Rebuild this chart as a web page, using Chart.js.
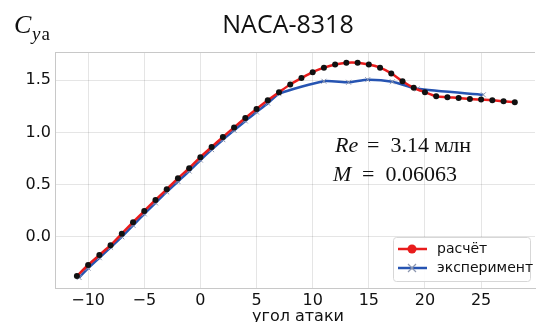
<!DOCTYPE html>
<html>
<head>
<meta charset="utf-8">
<script src="https://cdn.jsdelivr.net/npm/chart.js@4"></script>
<style>
  html, body { margin: 0; padding: 0; background: #fff; }
  #wrap { width: 540px; height: 322px; }
</style>
</head>
<body>
<div id="wrap"><canvas id="c"></canvas></div>
<script>
// расчёт
const alphaCalc = [-11, -10, -9, -8, -7, -6, -5, -4, -3, -2, -1, 0, 1, 2, 3, 4, 5, 6, 7, 8, 9,
    10, 11, 12, 13, 14, 15, 16, 17, 18, 19, 20, 21, 22, 23, 24, 25, 26, 27, 28];
const cyaCalc = [-0.375, -0.27, -0.175, -0.08, 0.03, 0.14, 0.247, 0.353, 0.455, 0.56, 0.657,
    0.763, 0.86, 0.955, 1.048, 1.138, 1.225, 1.308, 1.385, 1.459, 1.52,
    1.577, 1.62, 1.65, 1.667, 1.667, 1.65, 1.62, 1.565, 1.49, 1.427,
    1.385, 1.346, 1.337, 1.33, 1.32, 1.314, 1.308, 1.298, 1.288];

// эксперимент
const alphaExp = [-10.8, -10, -9, -8, -7, -6, -5, -4, -3, -2, -1, 0, 1, 2, 3, 4, 5, 6, 7,
    11, 13.2, 14.9, 17.1, 19.3, 25.2];
const cyaExp = [-0.39, -0.30, -0.20, -0.10, 0.0, 0.11, 0.22, 0.325, 0.43, 0.53, 0.63,
    0.735, 0.835, 0.93, 1.02, 1.11, 1.195, 1.28, 1.37,
    1.49, 1.48, 1.505, 1.485, 1.417, 1.36];

const xTicks = [-10, -5, 0, 5, 10, 15, 20, 25];
const yTicks = [0, 0.5, 1.0, 1.5];
const seriesNames = ['расчёт', 'эксперимент'];

const RED = 'rgb(232, 28, 28)';
const BLUE = 'rgb(38, 84, 178)';
const GRID = 'rgba(0,0,0,0.1)';
const FRAME = 'rgb(200,200,200)';

const toPoints = (xs, ys) => xs.map((x, i) => ({ x: x, y: ys[i] }));

const decorations = {
    id: 'decorations',
    afterDraw(chart) {
        const ctx = chart.ctx;
        const a = chart.chartArea;
        ctx.save();

        // top frame line
        ctx.strokeStyle = FRAME;
        ctx.lineWidth = 1;
        ctx.beginPath();
        ctx.moveTo(a.left, a.top + 0.5);
        ctx.lineTo(a.right, a.top + 0.5);
        ctx.stroke();

        // title
        ctx.fillStyle = '#111';
        ctx.textBaseline = 'alphabetic';
        ctx.textAlign = 'center';
        ctx.font = '25px "Open Sans"';
        ctx.fillText('NACA-8318', 288, 33);

        // C_ya
        ctx.textAlign = 'left';
        ctx.font = 'italic 26px "Liberation Serif"';
        ctx.fillText('C', 14, 33);
        ctx.font = 'italic 19px "Liberation Serif"';
        ctx.fillText('y', 32, 40);
        const yw = ctx.measureText('y').width;
        ctx.font = '19px "Liberation Serif"';
        ctx.fillText('a', 32 + yw + 1, 40);

        // Re and M annotations
        ctx.font = 'italic 22px "Liberation Serif"';
        ctx.fillText('Re', 335, 152);
        ctx.font = '22px "Liberation Serif"';
        ctx.fillText('=  3.14 млн', 367, 152);
        ctx.font = 'italic 22px "Liberation Serif"';
        ctx.fillText('M', 333, 181);
        ctx.font = '22px "Liberation Serif"';
        ctx.fillText('=  0.06063', 362, 181);

        // x axis title
        ctx.textAlign = 'center';
        ctx.font = '16px "DejaVu Sans"';
        ctx.fillText('угол атаки', 298, 321);

        // legend
        const lx = 393, ly = 237, lw = 137, lh = 44;
        ctx.fillStyle = 'rgba(255,255,255,0.85)';
        ctx.strokeStyle = 'rgb(215,215,215)';
        ctx.beginPath();
        ctx.roundRect(lx + 0.5, ly + 0.5, lw, lh, 3);
        ctx.fill();
        ctx.stroke();

        const rows = [
            { y: 249, color: RED, marker: 'dot' },
            { y: 268, color: BLUE, marker: 'cross' }
        ];
        rows.forEach((r, i) => {
            ctx.strokeStyle = r.color;
            ctx.lineWidth = 2.5;
            ctx.beginPath();
            ctx.moveTo(398, r.y);
            ctx.lineTo(427, r.y);
            ctx.stroke();
            if (r.marker === 'dot') {
                ctx.fillStyle = r.color;
                ctx.beginPath();
                ctx.arc(412, r.y, 4.5, 0, Math.PI * 2);
                ctx.fill();
            } else {
                ctx.strokeStyle = 'rgb(140,150,175)';
                ctx.lineWidth = 1.2;
                ctx.beginPath();
                ctx.moveTo(408, r.y - 4); ctx.lineTo(416, r.y + 4);
                ctx.moveTo(416, r.y - 4); ctx.lineTo(408, r.y + 4);
                ctx.stroke();
            }
            ctx.fillStyle = '#111';
            ctx.textAlign = 'left';
            ctx.textBaseline = 'middle';
            ctx.font = '14px "DejaVu Sans"';
            ctx.fillText(seriesNames[i], 437, r.y);
        });

        ctx.restore();
    }
};

new Chart(document.getElementById('c'), {
    type: 'line',
    data: {
        datasets: [{
            label: seriesNames[0],
            data: toPoints(alphaCalc, cyaCalc),
            borderColor: RED,
            borderWidth: 2.5,
            pointRadius: 3,
            pointBackgroundColor: '#111',
            pointBorderColor: '#111',
            pointBorderWidth: 0,
            tension: 0.3,
            order: 0
        }, {
            label: seriesNames[1],
            data: toPoints(alphaExp, cyaExp),
            borderColor: BLUE,
            borderWidth: 2.5,
            pointStyle: 'crossRot',
            pointRadius: 3.5,
            pointBorderColor: 'rgb(140,150,175)',
            pointBorderWidth: 1,
            tension: 0.2,
            order: 1
        }]
    },
    options: {
        responsive: true,
        maintainAspectRatio: false,
        animation: false,
        layout: { padding: { top: 52, right: 0, left: 0, bottom: 0 } },
        plugins: {
            legend: { display: false },
            tooltip: { enabled: false }
        },
        scales: {
            x: {
                type: 'linear',
                min: -12.95,
                max: 29.8,
                afterBuildTicks: (scale) => { scale.ticks = xTicks.map(v => ({ value: v })); },
                afterFit: (scale) => { scale.height = 34; },
                grid: { color: GRID, drawTicks: false },
                border: { color: FRAME },
                ticks: {
                    padding: 3,
                    color: '#111',
                    font: { family: 'DejaVu Sans', size: 16 },
                    callback: (v) => String(v).replace('-', '\u2212')
                }
            },
            y: {
                min: -0.49,
                max: 1.77,
                afterBuildTicks: (scale) => { scale.ticks = yTicks.map(v => ({ value: v })); },
                afterFit: (scale) => { scale.width = 55; },
                grid: { color: GRID, drawTicks: false },
                border: { color: FRAME },
                ticks: {
                    padding: 4,
                    color: '#111',
                    font: { family: 'DejaVu Sans', size: 16 },
                    callback: (v) => Number(v).toFixed(1)
                }
            }
        }
    },
    plugins: [decorations]
});
</script>
</body>
</html>
